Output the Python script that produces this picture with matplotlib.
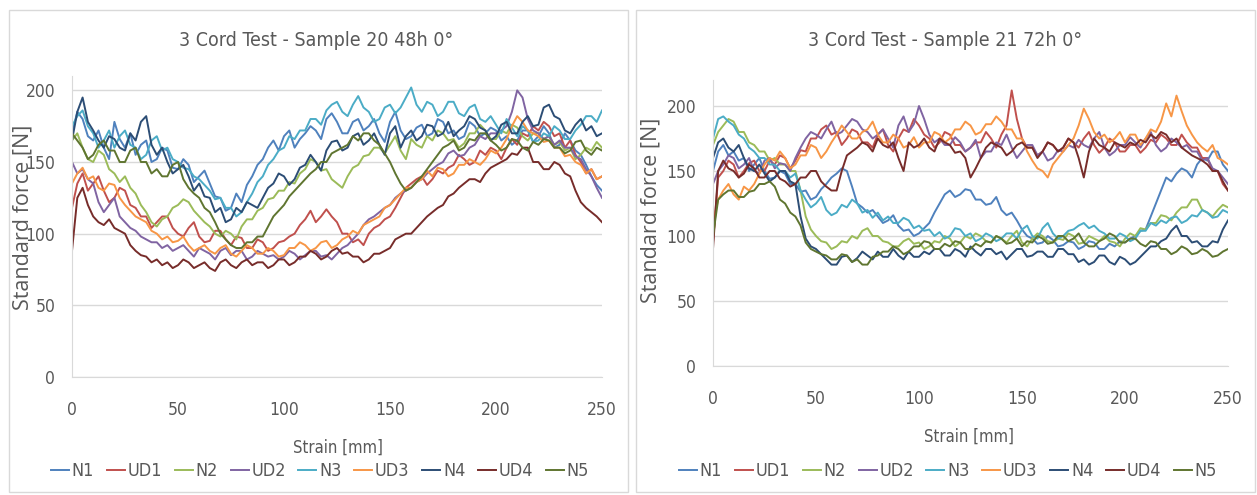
import matplotlib
matplotlib.use("Agg")
import numpy as np
import matplotlib.pyplot as plt
from matplotlib import font_manager as fm
from matplotlib.patches import Rectangle

# narrow font if there is one, the chart text is condensed
avail = {f.name for f in fm.fontManager.ttflist}
if "Liberation Sans Narrow" in avail:
    FONT, STRETCH = "Liberation Sans Narrow", "normal"
elif any(f.name == "DejaVu Sans" and "ondensed" in f.fname for f in fm.fontManager.ttflist):
    FONT, STRETCH = "DejaVu Sans", "condensed"
else:
    FONT, STRETCH = "Lato", "normal"
plt.rcParams["font.family"] = [FONT, "DejaVu Sans"]
plt.rcParams["font.stretch"] = STRETCH

names = ["N1", "UD1", "N2", "UD2", "N3", "UD3", "N4", "UD4", "N5"]
colors = ["#4F81BD", "#C0504D", "#9BBB59", "#8064A2", "#4BACC6",
          "#F79646", "#2C4D75", "#772C2A", "#5F7530"]

# Sample 20 48h, one value every 2.5 mm from 0 to 250 mm
s20_n1 = [170, 185, 180, 168, 165, 172, 160, 152, 178, 166, 160, 170, 155, 162, 165, 150, 152, 160, 158, 146,
          145, 152, 148, 136, 140, 144, 135, 126, 125, 116, 118, 128, 122, 134, 140, 148, 152, 160, 165, 158,
          168, 172, 160, 166, 170, 175, 172, 166, 180, 184, 178, 170, 170, 178, 180, 172, 175, 180, 170, 164,
          178, 185, 172, 166, 168, 174, 176, 168, 170, 180, 178, 170, 172, 166, 168, 178, 175, 168, 170, 174,
          172, 165, 168, 162, 165, 172, 172, 164, 168, 175, 170, 160, 162, 170, 165, 158, 155, 148, 140, 134, 130]
s20_ud1 = [118, 135, 142, 130, 135, 140, 130, 122, 125, 132, 130, 120, 118, 112, 112, 104, 108, 112, 112, 104,
           100, 98, 104, 108, 98, 94, 95, 102, 102, 96, 92, 98, 97, 90, 90, 96, 94, 88, 90, 94,
           95, 98, 100, 106, 110, 116, 108, 112, 117, 112, 108, 100, 100, 94, 96, 92, 100, 104, 106, 110,
           112, 118, 125, 132, 135, 138, 140, 134, 138, 144, 142, 146, 148, 155, 152, 148, 150, 158, 155, 160,
           158, 152, 160, 166, 162, 170, 168, 175, 172, 178, 175, 168, 170, 160, 165, 155, 150, 142, 145, 138, 140]
s20_n2 = [165, 170, 160, 152, 150, 158, 155, 145, 142, 136, 140, 132, 128, 120, 115, 108, 105, 110, 112, 118,
          120, 124, 122, 116, 112, 108, 105, 100, 98, 102, 100, 96, 105, 110, 110, 116, 118, 124, 125, 130,
          130, 136, 135, 142, 145, 152, 150, 144, 145, 138, 135, 132, 140, 146, 148, 154, 155, 160, 160, 156,
          162, 168, 158, 152, 166, 162, 160, 168, 165, 172, 170, 165, 166, 160, 163, 170, 170, 176, 172, 166,
          166, 172, 170, 176, 174, 168, 165, 170, 170, 166, 168, 162, 164, 158, 160, 152, 155, 160, 158, 164, 160]
s20_ud2 = [150, 142, 145, 138, 135, 122, 115, 120, 125, 112, 108, 104, 102, 98, 96, 94, 94, 90, 92, 88,
           90, 92, 88, 84, 90, 88, 86, 82, 88, 90, 85, 88, 88, 82, 84, 88, 86, 84, 85, 82,
           84, 88, 86, 82, 85, 88, 88, 84, 85, 82, 86, 90, 92, 96, 100, 106, 110, 112, 115, 118,
           120, 125, 128, 130, 132, 136, 138, 142, 145, 148, 150, 156, 158, 154, 155, 160, 162, 168, 166, 170,
           170, 172, 175, 185, 200, 195, 180, 172, 170, 166, 168, 162, 165, 160, 160, 154, 152, 145, 140, 132, 125]
s20_n3 = [175, 182, 186, 175, 170, 160, 165, 172, 160, 168, 172, 162, 160, 152, 155, 165, 168, 158, 160, 152,
          150, 146, 145, 140, 138, 134, 130, 124, 125, 118, 118, 112, 115, 122, 128, 136, 140, 148, 152, 158,
          160, 168, 166, 172, 172, 180, 180, 176, 186, 190, 192, 185, 182, 190, 196, 188, 185, 178, 180, 188,
          190, 184, 188, 195, 202, 190, 185, 192, 190, 182, 185, 192, 192, 184, 182, 188, 190, 180, 178, 182,
          176, 170, 180, 174, 168, 175, 172, 164, 165, 170, 168, 175, 172, 166, 166, 172, 176, 182, 182, 178, 186]
s20_ud3 = [135, 142, 146, 138, 140, 132, 130, 135, 134, 125, 120, 116, 112, 110, 108, 102, 100, 96, 98, 94,
           95, 98, 92, 88, 90, 92, 88, 86, 90, 92, 86, 84, 88, 92, 90, 86, 86, 90, 88, 84,
           85, 90, 90, 94, 92, 88, 90, 94, 95, 90, 92, 96, 98, 102, 100, 106, 108, 110, 112, 118,
           120, 124, 128, 132, 132, 136, 138, 144, 140, 146, 145, 140, 142, 148, 148, 152, 150, 148, 152, 158,
           156, 160, 166, 175, 182, 178, 172, 170, 168, 164, 165, 160, 160, 154, 155, 150, 148, 142, 145, 138, 140]
s20_n4 = [165, 185, 195, 178, 172, 165, 160, 168, 166, 160, 158, 170, 165, 178, 182, 162, 155, 160, 150, 142,
          145, 148, 140, 130, 135, 126, 125, 115, 118, 108, 110, 118, 115, 122, 120, 118, 125, 132, 135, 142,
          140, 134, 138, 146, 148, 155, 150, 144, 158, 164, 165, 158, 160, 168, 170, 162, 165, 170, 162, 155,
          170, 175, 160, 168, 172, 165, 168, 176, 175, 168, 170, 178, 168, 172, 175, 182, 180, 174, 172, 165,
          168, 176, 178, 170, 170, 178, 182, 175, 176, 188, 190, 182, 180, 172, 170, 176, 180, 172, 175, 168, 170]
s20_ud4 = [88, 125, 132, 120, 112, 108, 106, 110, 104, 102, 100, 92, 88, 85, 84, 80, 82, 78, 80, 76,
           78, 82, 80, 76, 78, 80, 76, 74, 80, 82, 78, 76, 80, 82, 78, 80, 80, 76, 78, 82,
           82, 78, 80, 84, 84, 88, 86, 82, 84, 88, 90, 86, 87, 84, 84, 80, 82, 86, 86, 88,
           90, 96, 98, 100, 100, 104, 108, 112, 115, 118, 120, 126, 128, 132, 135, 138, 138, 136, 142, 146,
           148, 150, 152, 156, 155, 160, 160, 150, 150, 145, 145, 150, 148, 142, 140, 130, 122, 118, 115, 112, 108]
s20_n5 = [170, 165, 160, 152, 155, 162, 165, 158, 158, 150, 150, 158, 160, 150, 150, 142, 145, 140, 140, 148,
          150, 138, 132, 128, 125, 118, 115, 108, 100, 96, 92, 90, 90, 94, 94, 98, 98, 105, 112, 116,
          120, 126, 130, 134, 138, 142, 145, 150, 150, 156, 158, 160, 162, 168, 165, 170, 170, 165, 162, 156,
          150, 142, 135, 130, 132, 136, 140, 145, 150, 155, 160, 162, 165, 158, 160, 166, 165, 170, 170, 165,
          162, 158, 160, 166, 165, 160, 158, 164, 162, 166, 165, 160, 160, 156, 158, 164, 165, 158, 155, 160, 158]

# Sample 21 72h
s21_n1 = [150, 165, 170, 162, 165, 158, 160, 150, 155, 160, 150, 144, 145, 150, 148, 140, 140, 134, 135, 128,
          130, 136, 140, 145, 148, 152, 150, 138, 125, 122, 118, 120, 115, 110, 112, 116, 108, 104, 105, 100,
          102, 106, 110, 118, 125, 132, 135, 130, 132, 136, 135, 128, 128, 124, 125, 130, 120, 116, 118, 112,
          105, 100, 98, 94, 95, 100, 97, 92, 93, 96, 95, 90, 92, 96, 95, 90, 90, 94, 92, 96,
          95, 98, 100, 104, 105, 115, 125, 135, 145, 142, 148, 152, 150, 145, 155, 160, 158, 165, 165, 155, 150]
s21_ud1 = [95, 145, 150, 158, 155, 145, 150, 156, 158, 150, 150, 158, 155, 162, 160, 152, 158, 166, 165, 175,
           175, 182, 185, 178, 180, 170, 175, 182, 180, 172, 172, 168, 178, 182, 170, 165, 175, 182, 180, 190,
           185, 178, 175, 168, 172, 180, 178, 170, 170, 165, 168, 172, 172, 180, 175, 168, 178, 185, 212, 190,
           175, 168, 168, 162, 165, 172, 170, 165, 168, 175, 172, 168, 175, 180, 170, 164, 168, 175, 172, 165,
           165, 170, 170, 164, 168, 174, 172, 178, 175, 170, 170, 178, 172, 168, 168, 160, 160, 150, 150, 140, 135]
s21_n2 = [170, 180, 185, 190, 188, 180, 180, 172, 170, 165, 165, 158, 160, 155, 155, 150, 150, 135, 115, 105,
          100, 96, 95, 90, 92, 96, 95, 100, 98, 104, 106, 100, 100, 96, 95, 92, 92, 96, 98, 94,
          95, 90, 92, 96, 95, 100, 98, 92, 95, 100, 98, 102, 100, 96, 95, 100, 98, 95, 100, 104,
          95, 92, 98, 102, 100, 96, 95, 98, 97, 102, 100, 94, 95, 100, 98, 96, 100, 96, 95, 92,
          98, 102, 100, 106, 105, 110, 110, 116, 115, 112, 118, 122, 122, 128, 128, 120, 118, 115, 120, 124, 122]
s21_ud2 = [140, 150, 155, 162, 160, 152, 155, 160, 150, 148, 158, 160, 152, 156, 155, 150, 160, 168, 175, 180,
           178, 175, 182, 188, 178, 180, 185, 190, 188, 182, 180, 175, 178, 182, 175, 168, 185, 192, 180, 186,
           200, 190, 178, 172, 175, 170, 170, 176, 172, 165, 168, 174, 160, 165, 165, 172, 170, 178, 168, 160,
           165, 170, 170, 162, 165, 158, 160, 166, 165, 170, 168, 174, 170, 168, 175, 180, 168, 162, 165, 170,
           170, 176, 172, 168, 175, 180, 170, 165, 168, 175, 172, 168, 170, 165, 165, 158, 160, 152, 150, 145, 140]
s21_n3 = [175, 190, 192, 188, 185, 178, 175, 168, 165, 160, 160, 155, 155, 150, 150, 145, 148, 135, 128, 122,
          125, 130, 120, 116, 118, 124, 122, 128, 125, 118, 120, 114, 118, 112, 115, 110, 110, 114, 112, 106,
          108, 104, 105, 100, 103, 98, 100, 106, 105, 100, 102, 96, 98, 102, 100, 96, 98, 102, 102, 98,
          105, 108, 100, 98, 106, 110, 102, 98, 100, 104, 105, 108, 110, 106, 108, 104, 102, 98, 98, 102,
          100, 96, 98, 104, 104, 110, 108, 112, 110, 114, 115, 110, 112, 116, 115, 120, 118, 114, 115, 120, 118]
s21_ud3 = [110, 128, 135, 140, 132, 128, 138, 135, 140, 148, 155, 160, 158, 165, 160, 152, 155, 162, 162, 170,
           168, 160, 165, 172, 178, 185, 180, 175, 175, 180, 182, 188, 178, 172, 172, 178, 175, 168, 170, 176,
           168, 172, 172, 180, 178, 172, 175, 182, 182, 188, 185, 178, 180, 186, 186, 192, 188, 182, 182, 175,
           175, 165, 158, 152, 150, 145, 155, 160, 165, 170, 175, 185, 198, 190, 180, 175, 178, 172, 175, 180,
           172, 178, 178, 170, 175, 182, 180, 188, 202, 192, 208, 196, 185, 178, 172, 168, 165, 170, 160, 158, 155]
s21_n4 = [160, 172, 175, 168, 165, 170, 160, 152, 150, 155, 148, 142, 145, 150, 150, 142, 140, 115, 98, 92,
          90, 86, 82, 78, 78, 84, 85, 80, 83, 88, 85, 82, 88, 84, 84, 90, 85, 82, 88, 84,
          84, 88, 86, 90, 90, 85, 85, 90, 88, 84, 92, 88, 85, 90, 90, 86, 88, 82, 86, 90,
          90, 84, 85, 88, 88, 84, 84, 90, 90, 86, 86, 80, 82, 78, 80, 85, 85, 80, 78, 84,
          82, 78, 80, 84, 88, 92, 92, 96, 98, 104, 108, 100, 100, 95, 96, 92, 92, 96, 95, 105, 112]
s21_ud4 = [90, 150, 158, 152, 150, 145, 148, 155, 152, 145, 145, 150, 150, 144, 142, 138, 140, 145, 145, 150,
           150, 142, 138, 135, 135, 150, 162, 165, 168, 172, 170, 165, 175, 170, 168, 172, 160, 150, 172, 168,
           170, 175, 168, 165, 175, 172, 170, 164, 165, 160, 145, 152, 160, 168, 172, 170, 168, 162, 165, 170,
           172, 168, 168, 160, 165, 172, 170, 165, 168, 175, 172, 160, 145, 165, 175, 170, 168, 165, 172, 170,
           168, 172, 170, 174, 172, 178, 175, 180, 178, 172, 175, 168, 165, 162, 160, 158, 155, 150, 150, 142, 135]
s21_n5 = [100, 128, 132, 135, 135, 130, 130, 134, 135, 140, 140, 142, 138, 128, 125, 118, 115, 108, 95, 90,
          88, 86, 85, 82, 82, 86, 85, 80, 82, 78, 78, 84, 85, 88, 88, 92, 90, 86, 88, 92,
          92, 96, 95, 90, 90, 94, 92, 96, 95, 90, 90, 94, 92, 96, 95, 100, 98, 94, 95, 98,
          92, 96, 95, 100, 98, 94, 95, 100, 100, 96, 98, 102, 95, 92, 92, 96, 98, 102, 100, 95,
          95, 98, 98, 94, 92, 96, 95, 90, 90, 86, 88, 92, 90, 86, 87, 90, 88, 84, 85, 88, 90]

sample20 = [s20_n1, s20_ud1, s20_n2, s20_ud2, s20_n3, s20_ud3, s20_n4, s20_ud4, s20_n5]
sample21 = [s21_n1, s21_ud1, s21_n2, s21_ud2, s21_n3, s21_ud3, s21_n4, s21_ud4, s21_n5]

W, H = 1257, 495
fig = plt.figure(figsize=(W / 100, H / 100), dpi=100)

# panel borders
for x0 in [9, 636]:
    fig.patches.append(Rectangle((x0 / W, 3 / H), 619 / W, 482 / H, transform=fig.transFigure,
                                 fill=False, edgecolor="#D9D9D9", linewidth=1))

grey = "#595959"
panels = [
    # data, title, axes rect (px), ymax, title x, ylabel x/y, xlabel x/y, legend centre x
    (sample20, "3 Cord Test - Sample 20 48h 0°", (72, 76, 530, 301), 210, 316, (23, 217), (338, 448), 320),
    (sample21, "3 Cord Test - Sample 21 72h 0°", (713, 80, 515, 286), 220, 945, (651, 210), (969, 437), 948),
]

for data, title, (px, py, pw, ph), ymax, tx, (ylx, yly), (slx, sly), lgx in panels:
    ax = fig.add_axes([px / W, 1 - (py + ph) / H, pw / W, ph / H])
    for vals, name, c in zip(data, names, colors):
        x = np.linspace(0, 250, len(vals))
        ax.plot(x, vals, color=c, linewidth=1.4, label=name)
    ax.set_xlim(0, 250)
    ax.set_ylim(0, ymax)
    ax.set_xticks([0, 50, 100, 150, 200, 250])
    ax.set_yticks([0, 50, 100, 150, 200])
    ax.grid(axis="y", color="#D9D9D9", linewidth=1)
    ax.set_axisbelow(True)
    for side in ["top", "right"]:
        ax.spines[side].set_visible(False)
    ax.spines["left"].set_color("#D9D9D9")
    ax.spines["bottom"].set_color("#D9D9D9")
    ax.tick_params(length=0, labelsize=12.5, labelcolor=grey)
    ax.tick_params(axis="x", pad=17)
    ax.tick_params(axis="y", pad=12)

    fig.text(tx / W, 1 - 41 / H, title, ha="center", va="center", fontsize=14, color=grey)
    fig.text(slx / W, 1 - sly / H, "Strain [mm]", ha="center", va="center", fontsize=12, color=grey)
    fig.text(ylx / W, 1 - yly / H, "Standard force [N]", rotation=90, ha="center", va="center",
             fontsize=15.5, color=grey, family=["Open Sans", "DejaVu Sans"], stretch="normal")
    ax.legend(loc="center", bbox_to_anchor=(lgx / W, 1 - 471 / H), bbox_transform=fig.transFigure,
              ncol=9, frameon=False, fontsize=13, handlelength=1.0, handletextpad=0.15,
              columnspacing=0.7, labelcolor=grey)

fig.savefig("out.png", dpi=100)
